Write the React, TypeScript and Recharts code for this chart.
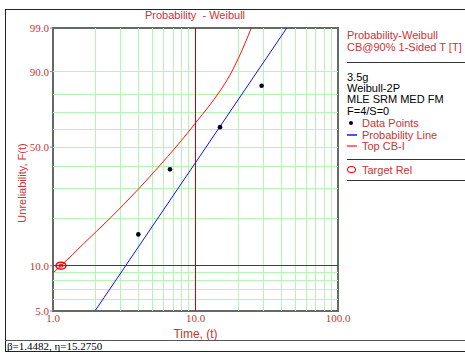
import React from "react"
import { ComposedChart, Line, Scatter, XAxis, YAxis, ReferenceLine, ReferenceArea } from "recharts"

// failure data (median ranks)
const failureTimes = [3.97, 6.62, 14.86, 29.1]
const medianRanks = [15.91, 38.57, 61.43, 84.09]

// fitted probability line, read at the plot edges
const fitTimes = [1.97, 43.7]
const fitUnrel = [5, 99]

// top confidence bound (CB@90% 1-sided)
const cbTimes = [1, 1.138, 1.632, 2.512, 3.949, 5.634, 7.18, 8.901, 10.08, 12.3, 14.86, 17.46, 19.97, 24.64]
const cbUnrel = [8.97, 10.0, 13.84, 20.05, 29.79, 40.52, 49.49, 58.55, 64.27, 73.08, 81.59, 88.72, 94.14, 99.0]

// target reliability marker
const targetTimes = [1.138]
const targetUnrel = [10]

const xTicks = [1, 10, 100]
const xMinor = [2, 3, 4, 5, 6, 7, 8, 9, 20, 30, 40, 50, 60, 70, 80, 90]
const yTicks = [5, 10, 50, 90, 99]
const yMinor = [6, 7, 8, 9, 20, 30, 40, 50, 60, 70, 80, 90]

const RED = "#cc3333"
const SANS = "'Liberation Sans', Arial, sans-serif"
const SERIF = "'Liberation Serif', 'Times New Roman', serif"

// Weibull probability paper: y = ln(-ln(1 - F))
const wy = (pct: number) => Math.log(-Math.log(1 - pct / 100))

const pointData = failureTimes.map((t, i) => ({ t, y: wy(medianRanks[i]) }))
const fitData = fitTimes.map((t, i) => ({ t, y: wy(fitUnrel[i]) }))
const cbData = cbTimes.map((t, i) => ({ t, y: wy(cbUnrel[i]) }))
const targetData = targetTimes.map((t, i) => ({ t, y: wy(targetUnrel[i]) }))

const yFmt = (v: number) => {
  let best = yTicks[0]
  for (const p of yTicks) if (Math.abs(wy(p) - v) < Math.abs(wy(best) - v)) best = p
  return best.toFixed(1)
}

function Dot(props: any) {
  return <circle cx={props.cx} cy={props.cy} r={2.3} fill="#000022" />
}

function TargetMark(props: any) {
  return (
    <g>
      <ellipse cx={props.cx} cy={props.cy} rx={5} ry={3.5} fill="none" stroke="#ff0000" strokeWidth={1.5} />
      <ellipse cx={props.cx} cy={props.cy} rx={2.3} ry={1.4} fill="none" stroke="#ff0000" strokeWidth={1} />
    </g>
  )
}

// major grid line (dark red), drawn with an explicit stroke
function MajorLine(p: any) {
  return <line x1={p.x1} y1={p.y1} x2={p.x2} y2={p.y2} stroke="#d00000" strokeWidth={1} shapeRendering="crispEdges" />
}

function Txt({ x, y, children, color = "#000", font = SANS, center = false }: any) {
  return (
    <div
      style={{
        position: "absolute",
        left: x,
        top: y - 6,
        lineHeight: "12px",
        fontSize: 11,
        fontFamily: font,
        color,
        whiteSpace: "nowrap",
        transform: center ? "translateX(-50%)" : undefined,
      }}
    >
      {children}
    </div>
  )
}

function HLine({ x, y, w, color = "#333", h = 1 }: any) {
  return <div style={{ position: "absolute", left: x, top: y, width: w, height: h, background: color }} />
}

export default function App() {
  return (
    <div style={{ position: "absolute", left: 0, top: 0, width: 465, height: 354, background: "#fff", overflow: "hidden" }}>
      <div style={{ position: "absolute", left: 0, top: 0 }}>
        <ComposedChart width={465} height={354} margin={{ top: 28, right: 127, bottom: 0, left: 0 }}>
          <XAxis
            dataKey="t"
            type="number"
            scale="log"
            domain={[1, 100]}
            allowDataOverflow
            ticks={xTicks}
            interval={0}
            tickFormatter={(v: number) => v.toFixed(1)}
            height={43}
            axisLine={false}
            tickLine={false}
            tickSize={0}
            tickMargin={3}
            tick={{ fill: RED, fontSize: 11, fontFamily: SERIF }}
            label={{ value: "Time, (t)", position: "insideBottom", offset: 16, fill: RED, fontSize: 12, fontFamily: SANS }}
          />
          <YAxis
            type="number"
            domain={[wy(5), wy(99)]}
            allowDataOverflow
            ticks={yTicks.map(wy)}
            interval={0}
            tickFormatter={yFmt}
            width={53}
            axisLine={false}
            tickLine={{ stroke: "#888" }}
            tickSize={3}
            tickMargin={1}
            tick={{ fill: RED, fontSize: 11, fontFamily: SERIF }}
          />

          {xMinor.map((v) => (
            <ReferenceLine key={"x" + v} x={v} stroke="#b4f4b4" strokeWidth={1} shapeRendering="crispEdges" />
          ))}
          {yMinor.map((v) => (
            <ReferenceLine key={"y" + v} y={wy(v)} stroke="#b4f4b4" strokeWidth={1} shapeRendering="crispEdges" />
          ))}
          <ReferenceLine x={10} stroke="#d00000" shape={MajorLine} />
          <ReferenceLine y={wy(10)} stroke="#d00000" shape={MajorLine} />

          <Line data={cbData} dataKey="y" type="monotone" stroke="#ff1010" strokeWidth={1} dot={false} activeDot={false} isAnimationActive={false} />
          <Line data={fitData} dataKey="y" type="linear" stroke="#1010ff" strokeWidth={1} dot={false} activeDot={false} isAnimationActive={false} />
          <Scatter data={pointData} dataKey="y" shape={<Dot />} isAnimationActive={false} />
          <Scatter data={targetData} dataKey="y" shape={<TargetMark />} isAnimationActive={false} />

          <ReferenceArea x1={1} x2={100} y1={wy(5)} y2={wy(99)} fill="none" fillOpacity={0} stroke="#646a64" strokeWidth={2} />
        </ComposedChart>
      </div>

      {/* frame */}
      <HLine x={5} y={9} w={460} color="#222" />
      <div style={{ position: "absolute", left: 5, top: 9, width: 1, height: 343, background: "#222" }} />
      <HLine x={5} y={340} w={460} color="#555" />
      <HLine x={5} y={351} w={460} color="#222" />

      <Txt x={195} y={15} color={RED} center>Probability&nbsp; - Weibull</Txt>
      <div
        style={{
          position: "absolute",
          left: 22,
          top: 183,
          transform: "translate(-50%, -50%) rotate(-90deg)",
          fontSize: 11,
          fontFamily: SANS,
          color: RED,
          whiteSpace: "nowrap",
          lineHeight: "12px",
        }}
      >
        Unreliability, F(t)
      </div>
      <Txt x={7} y={346} font={SERIF}>β=1.4482, η=15.2750</Txt>

      {/* legend panel */}
      <Txt x={347} y={35} color={RED}>Probability-Weibull</Txt>
      <Txt x={347} y={47} color={RED}>CB@90% 1-Sided T [T]</Txt>
      <HLine x={347} y={62} w={118} color="#333" />
      <Txt x={347} y={77}>3.5g</Txt>
      <Txt x={347} y={88}>Weibull-2P</Txt>
      <Txt x={347} y={99}>MLE SRM MED FM</Txt>
      <Txt x={347} y={111}>F=4/S=0</Txt>
      <div style={{ position: "absolute", left: 349, top: 121, width: 4, height: 4, borderRadius: 2, background: "#000022" }} />
      <Txt x={362} y={123} color={RED}>Data Points</Txt>
      <HLine x={347} y={134} w={10} color="#5050ff" h={2} />
      <Txt x={362} y={135} color={RED}>Probability Line</Txt>
      <HLine x={347} y={145} w={10} color="#ff7070" h={2} />
      <Txt x={362} y={146} color={RED}>Top CB-I</Txt>
      <HLine x={347} y={159} w={118} color="#333" />
      <div style={{ position: "absolute", left: 347, top: 166, width: 7, height: 5, borderRadius: "50%", border: "1.5px solid #ff0000" }} />
      <Txt x={362} y={170} color={RED}>Target Rel</Txt>
      <HLine x={347} y={180} w={118} color="#333" />
    </div>
  )
}
